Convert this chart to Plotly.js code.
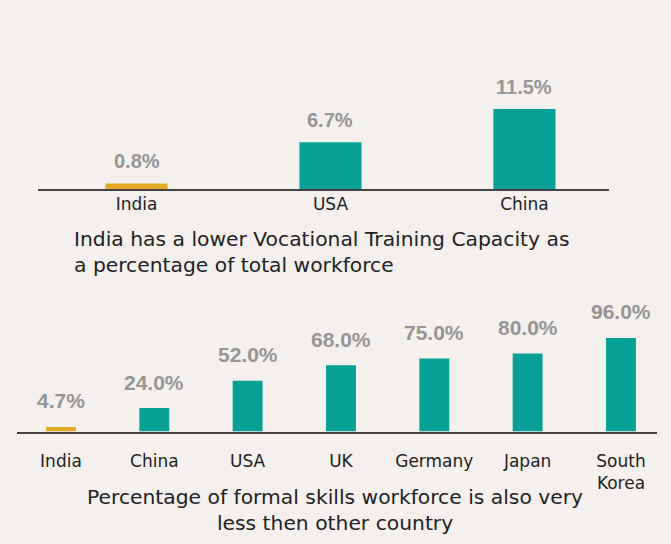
<!DOCTYPE html>
<html>
<head>
<meta charset="utf-8">
<script src="https://cdn.plot.ly/plotly-3.0.1.min.js"></script>
<style>html,body{margin:0;padding:0;background:#f3f0ed;}#chart{width:671px;height:544px;}</style>
</head>
<body>
<div id="chart"></div>
<script>
// ---- data ----
const topCountries = ['India', 'USA', 'China'];
const topValues = [0.8, 6.7, 11.5];
const topCaption = 'India has a lower Vocational Training Capacity as<br>a percentage of total workforce';

const bottomCountries = ['India', 'China', 'USA', 'UK', 'Germany', 'Japan', 'South<br>Korea'];
const bottomValues = [4.7, 24.0, 52.0, 68.0, 75.0, 80.0, 96.0];
const bottomCaption = 'Percentage of formal skills workforce is also very<br>less then other country';

const highlight = 'India';

// ---- styles ----
const TEAL = '#07a097';
const GOLD = '#e3a821';
const BG = '#f3f0ed';
const LABEL_FONT = {family: 'Liberation Sans, Arial, sans-serif', color: '#959595', weight: 'bold'};
const TEXT_FONT = 'DejaVu Sans, sans-serif';

function colors(cats) { return cats.map(c => c === highlight ? GOLD : TEAL); }

const traces = [
  {type: 'bar', x: topCountries, y: topValues, xaxis: 'x', yaxis: 'y',
   marker: {color: colors(topCountries)}, width: 0.32, hoverinfo: 'skip'},
  {type: 'bar', x: bottomCountries, y: bottomValues, xaxis: 'x2', yaxis: 'y2',
   marker: {color: colors(bottomCountries)}, width: 0.32, hoverinfo: 'skip'}
];

const annotations = [];
topCountries.forEach((c, i) => annotations.push({
  xref: 'x', yref: 'y', x: c, y: topValues[i], text: topValues[i].toFixed(1) + '%',
  showarrow: false, yanchor: 'middle', yshift: 22,
  font: Object.assign({size: 20}, LABEL_FONT)
}));
bottomCountries.forEach((c, i) => annotations.push({
  xref: 'x2', yref: 'y2', x: c, y: bottomValues[i], text: bottomValues[i].toFixed(1) + '%',
  showarrow: false, yanchor: 'middle', yshift: 26,
  font: Object.assign({size: 21}, LABEL_FONT)
}));
annotations.push({
  xref: 'paper', yref: 'paper', x: 72 / 671, y: 1 - 252.5 / 544, xanchor: 'left', yanchor: 'middle',
  align: 'left', showarrow: false, text: topCaption,
  font: {family: TEXT_FONT, size: 20.3, color: '#222'}
});
annotations.push({
  xref: 'paper', yref: 'paper', x: 335 / 671, y: 1 - 509.5 / 544, xanchor: 'center', yanchor: 'middle',
  align: 'center', showarrow: false, text: bottomCaption,
  font: {family: TEXT_FONT, size: 20.3, color: '#222'}
});

const axisCommon = {
  showgrid: false, zeroline: false, showline: true, linecolor: '#444', linewidth: 2,
  ticks: '', tickfont: {family: TEXT_FONT, size: 17, color: '#222'}, fixedrange: true
};

const layout = {
  width: 671, height: 544,
  margin: {l: 0, r: 0, t: 0, b: 0},
  paper_bgcolor: BG, plot_bgcolor: 'rgba(0,0,0,0)',
  showlegend: false,
  xaxis: Object.assign({}, axisCommon, {domain: [38 / 671, 609 / 671], range: [-0.508, 2.436], anchor: 'y', ticklabelstandoff: -1}),
  yaxis: {domain: [1 - 189 / 544, 1 - 49.8 / 544], range: [0, 20], visible: false, fixedrange: true},
  xaxis2: Object.assign({}, axisCommon, {domain: [17 / 671, 657 / 671], range: [-0.471, 6.386], anchor: 'y2', ticklabelstandoff: 13}),
  yaxis2: {domain: [1 - 431.5 / 544, 1 - 314.6 / 544], range: [0, 120], visible: false, fixedrange: true},
  annotations: annotations
};

Plotly.newPlot('chart', traces, layout, {displayModeBar: false, staticPlot: true});
</script>
</body>
</html>
